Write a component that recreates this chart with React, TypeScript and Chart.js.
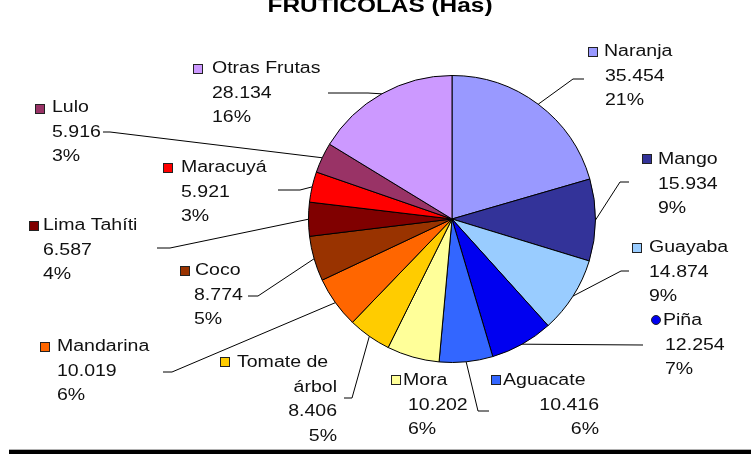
import React, { useEffect, useRef } from 'react';
import { Chart, registerables } from 'chart.js';

Chart.register(...registerables);

// ---- Data ----
const TITLE = 'FRUTÍCOLAS (Has)';
const categories = [
  'Naranja', 'Mango', 'Guayaba', 'Piña', 'Aguacate', 'Mora', 'Tomate de árbol',
  'Mandarina', 'Coco', 'Lima Tahíti', 'Maracuyá', 'Lulo', 'Otras Frutas',
];
const hectares = [35454, 15934, 14874, 12254, 10416, 10202, 8406, 10019, 8774, 6587, 5921, 5916, 28134];
const sliceColors = [
  '#9999FF', '#333399', '#99CCFF', '#0000F0', '#3366FF', '#FFFF99', '#FFCC00',
  '#FF6600', '#993300', '#800000', '#FF0000', '#993366', '#CC99FF',
];

// ---- Label layout (positions of the data-label boxes) ----
type Layout = {
  marker: [number, number];
  nameX: number;
  y: number;
  valX: number;
  align: 'left' | 'right';
  lead: [number, number, number] | null;
  circle?: boolean;
};
const LABEL_LAYOUT: Layout[] = [
  { marker: [593, 52], nameX: 604, y: 52, valX: 605, align: 'left', lead: [584, 79, 573] },
  { marker: [647, 159], nameX: 658, y: 160, valX: 658, align: 'left', lead: [629, 182, 620] },
  { marker: [637, 248], nameX: 649, y: 248, valX: 649, align: 'left', lead: [629, 271, 621] },
  { marker: [656, 320], nameX: 663, y: 321, valX: 665, align: 'left', lead: [643, 345, 643], circle: true },
  { marker: [496, 380], nameX: 503, y: 381, valX: 599, align: 'right', lead: [489, 411, 478] },
  { marker: [396, 380], nameX: 403, y: 381, valX: 408, align: 'left', lead: null },
  { marker: [225, 362], nameX: 237, y: 363, valX: 337, align: 'right', lead: [344, 398, 352] },
  { marker: [45, 347], nameX: 57, y: 347, valX: 57, align: 'left', lead: [163, 372, 172] },
  { marker: [185, 271], nameX: 195, y: 271, valX: 194, align: 'left', lead: [248, 296, 258] },
  { marker: [34, 226], nameX: 43, y: 226, valX: 43, align: 'left', lead: [157, 248, 170] },
  { marker: [168, 168], nameX: 181, y: 168, valX: 181, align: 'left', lead: [278, 190, 300] },
  { marker: [40, 109], nameX: 52, y: 108, valX: 52, align: 'left', lead: [103, 132, 110] },
  { marker: [198, 69], nameX: 212, y: 69, valX: 212, align: 'left', lead: [328, 93, 368] },
];

const LINE_H = 24.5;
const SX = 1.22;
const LABEL_FONT = "16px 'Liberation Sans', Arial, sans-serif";
const TITLE_FONT = "bold 20px 'Liberation Sans', Arial, sans-serif";

function fmt(v: number): string {
  return String(v).replace(/\B(?=(\d{3})+(?!\d))/g, '.');
}

function splitName(name: string): string[] {
  if (name === 'Tomate de árbol') return ['Tomate de', 'árbol'];
  return [name];
}

function drawText(ctx: CanvasRenderingContext2D, text: string, x: number, y: number, align: 'left' | 'right' | 'center') {
  const w = ctx.measureText(text).width * SX;
  const left = align === 'right' ? x - w : align === 'center' ? x - w / 2 : x;
  ctx.save();
  ctx.translate(left, y);
  ctx.scale(SX, 1);
  ctx.textAlign = 'left';
  ctx.fillText(text, 0, 0);
  ctx.restore();
}

const labelsPlugin = {
  id: 'pieLabels',
  afterDraw(chart: any) {
    const ctx: CanvasRenderingContext2D = chart.ctx;
    const meta = chart.getDatasetMeta(0);
    const total = hectares.reduce((a, b) => a + b, 0);
    ctx.save();

    // title (partly cut at the top)
    ctx.fillStyle = '#000';
    ctx.font = TITLE_FONT;
    ctx.textBaseline = 'alphabetic';
    drawText(ctx, TITLE, 380, 12, 'center');

    ctx.font = LABEL_FONT;
    ctx.textBaseline = 'middle';
    meta.data.forEach((arc: any, i: number) => {
      const p = arc.getProps(['x', 'y', 'startAngle', 'endAngle', 'outerRadius'], true);
      const mid = (p.startAngle + p.endAngle) / 2;
      const px = p.x + Math.cos(mid) * p.outerRadius;
      const py = p.y + Math.sin(mid) * p.outerRadius;
      const L = LABEL_LAYOUT[i];

      if (L.lead) {
        ctx.strokeStyle = '#000';
        ctx.lineWidth = 1;
        ctx.beginPath();
        ctx.moveTo(L.lead[0], L.lead[1]);
        ctx.lineTo(L.lead[2], L.lead[1]);
        ctx.lineTo(px, py);
        ctx.stroke();
      }

      // legend key
      ctx.fillStyle = sliceColors[i];
      ctx.strokeStyle = '#222';
      ctx.lineWidth = 1;
      if (L.circle) {
        ctx.beginPath();
        ctx.arc(L.marker[0], L.marker[1], 4.5, 0, Math.PI * 2);
        ctx.fill();
        ctx.stroke();
      } else {
        ctx.fillRect(L.marker[0] - 4, L.marker[1] - 4, 8, 8);
        ctx.strokeRect(L.marker[0] - 4.5, L.marker[1] - 4.5, 9, 9);
      }

      // texts
      ctx.fillStyle = '#111';
      const nameParts = splitName(categories[i]);
      drawText(ctx, nameParts[0], L.nameX, L.y, 'left');
      const rest = [...nameParts.slice(1), fmt(hectares[i]), Math.round((hectares[i] / total) * 100) + '%'];
      rest.forEach((t, k) => {
        drawText(ctx, t, L.valX, L.y + LINE_H * (k + 1), L.align);
      });
    });

    // bottom rule
    ctx.fillStyle = '#b0b0b0';
    ctx.fillRect(9, 449, 742, 1);
    ctx.fillStyle = '#000';
    ctx.fillRect(9, 450, 742, 4);
    ctx.restore();
  },
};

export default function App() {
  const ref = useRef<HTMLCanvasElement | null>(null);
  useEffect(() => {
    if (!ref.current) return;
    const chart = new Chart(ref.current, {
      type: 'pie',
      data: {
        labels: categories,
        datasets: [
          {
            data: hectares,
            backgroundColor: sliceColors,
            borderColor: '#000',
            borderWidth: 1,
            hoverOffset: 0,
          },
        ],
      },
      options: {
        responsive: false,
        animation: false,
        layout: { padding: { top: 75, bottom: 91, left: 308, right: 155 } },
        plugins: {
          legend: { display: false },
          tooltip: { enabled: false },
          title: { display: false },
        },
      },
      plugins: [labelsPlugin],
    });
    return () => chart.destroy();
  }, []);
  return (
    <canvas
      ref={ref}
      width={751}
      height={454}
      style={{ position: 'fixed', left: 0, top: 0, background: '#fff' }}
    />
  );
}
